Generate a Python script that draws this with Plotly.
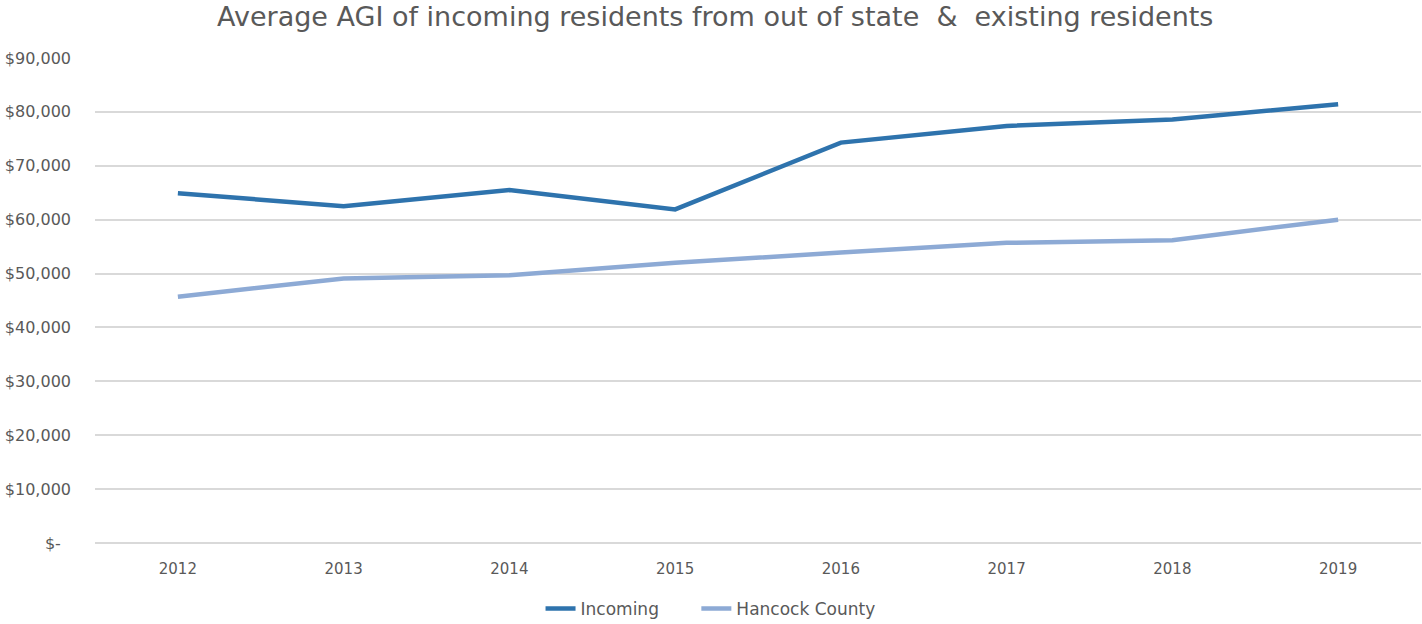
import plotly.graph_objects as go

years = ["2012", "2013", "2014", "2015", "2016", "2017", "2018", "2019"]
incoming = [64900, 62500, 65500, 61900, 74300, 77400, 78600, 81400]
hancock = [45700, 49100, 49700, 52000, 53900, 55700, 56200, 60000]

tick_vals = [0, 10000, 20000, 30000, 40000, 50000, 60000, 70000, 80000, 90000]
tick_text = ["$-&nbsp;&nbsp;", "$10,000", "$20,000", "$30,000", "$40,000", "$50,000",
             "$60,000", "$70,000", "$80,000", "$90,000"]

font_family = "'DejaVu Sans', Verdana, sans-serif"
grey = "#595959"

fig = go.Figure()
fig.add_trace(go.Scatter(x=years, y=incoming, name="Incoming&nbsp;&nbsp;&nbsp;&nbsp;&nbsp;&nbsp;",
                         mode="lines", line=dict(color="#2E73AD", width=4.5)))
fig.add_trace(go.Scatter(x=years, y=hancock, name="Hancock County", mode="lines",
                         line=dict(color="#8DAAD5", width=4.5)))

fig.update_layout(
    width=1422, height=624,
    paper_bgcolor="white", plot_bgcolor="white",
    margin=dict(l=95, r=1, t=58, b=81),
    font=dict(family=font_family, color=grey, size=15),
    title=dict(text="Average AGI of incoming residents from out of state&nbsp;&nbsp;&amp;&nbsp;&nbsp;existing residents",
               x=0.503, xanchor="center", y=0.974, yanchor="middle",
               font=dict(size=27, color=grey, family=font_family)),
    showlegend=True,
    # container-referenced y so the legend does not eat into the plot area
    legend=dict(orientation="h", x=0.336, xanchor="left",
                yref="container", y=0.024, yanchor="middle",
                font=dict(size=17, color=grey), tracegroupgap=0),
    xaxis=dict(range=[-0.5, 7.5], showgrid=False, showline=False, ticks="",
               tickfont=dict(size=15), ticklabelstandoff=15),
    yaxis=dict(range=[0, 90000], tickvals=tick_vals, ticktext=tick_text,
               showgrid=True, gridcolor="#D9D9D9", gridwidth=1.5,
               zeroline=True, zerolinecolor="#D9D9D9", zerolinewidth=1.5,
               showline=False, ticks="", ticklabelstandoff=23,
               tickfont=dict(size=16)),
)

# drop the default page margin so the figure sits at the window corner
fig.write_html("out.html", config={"displayModeBar": False},
               post_script="document.body.style.margin='0';")
